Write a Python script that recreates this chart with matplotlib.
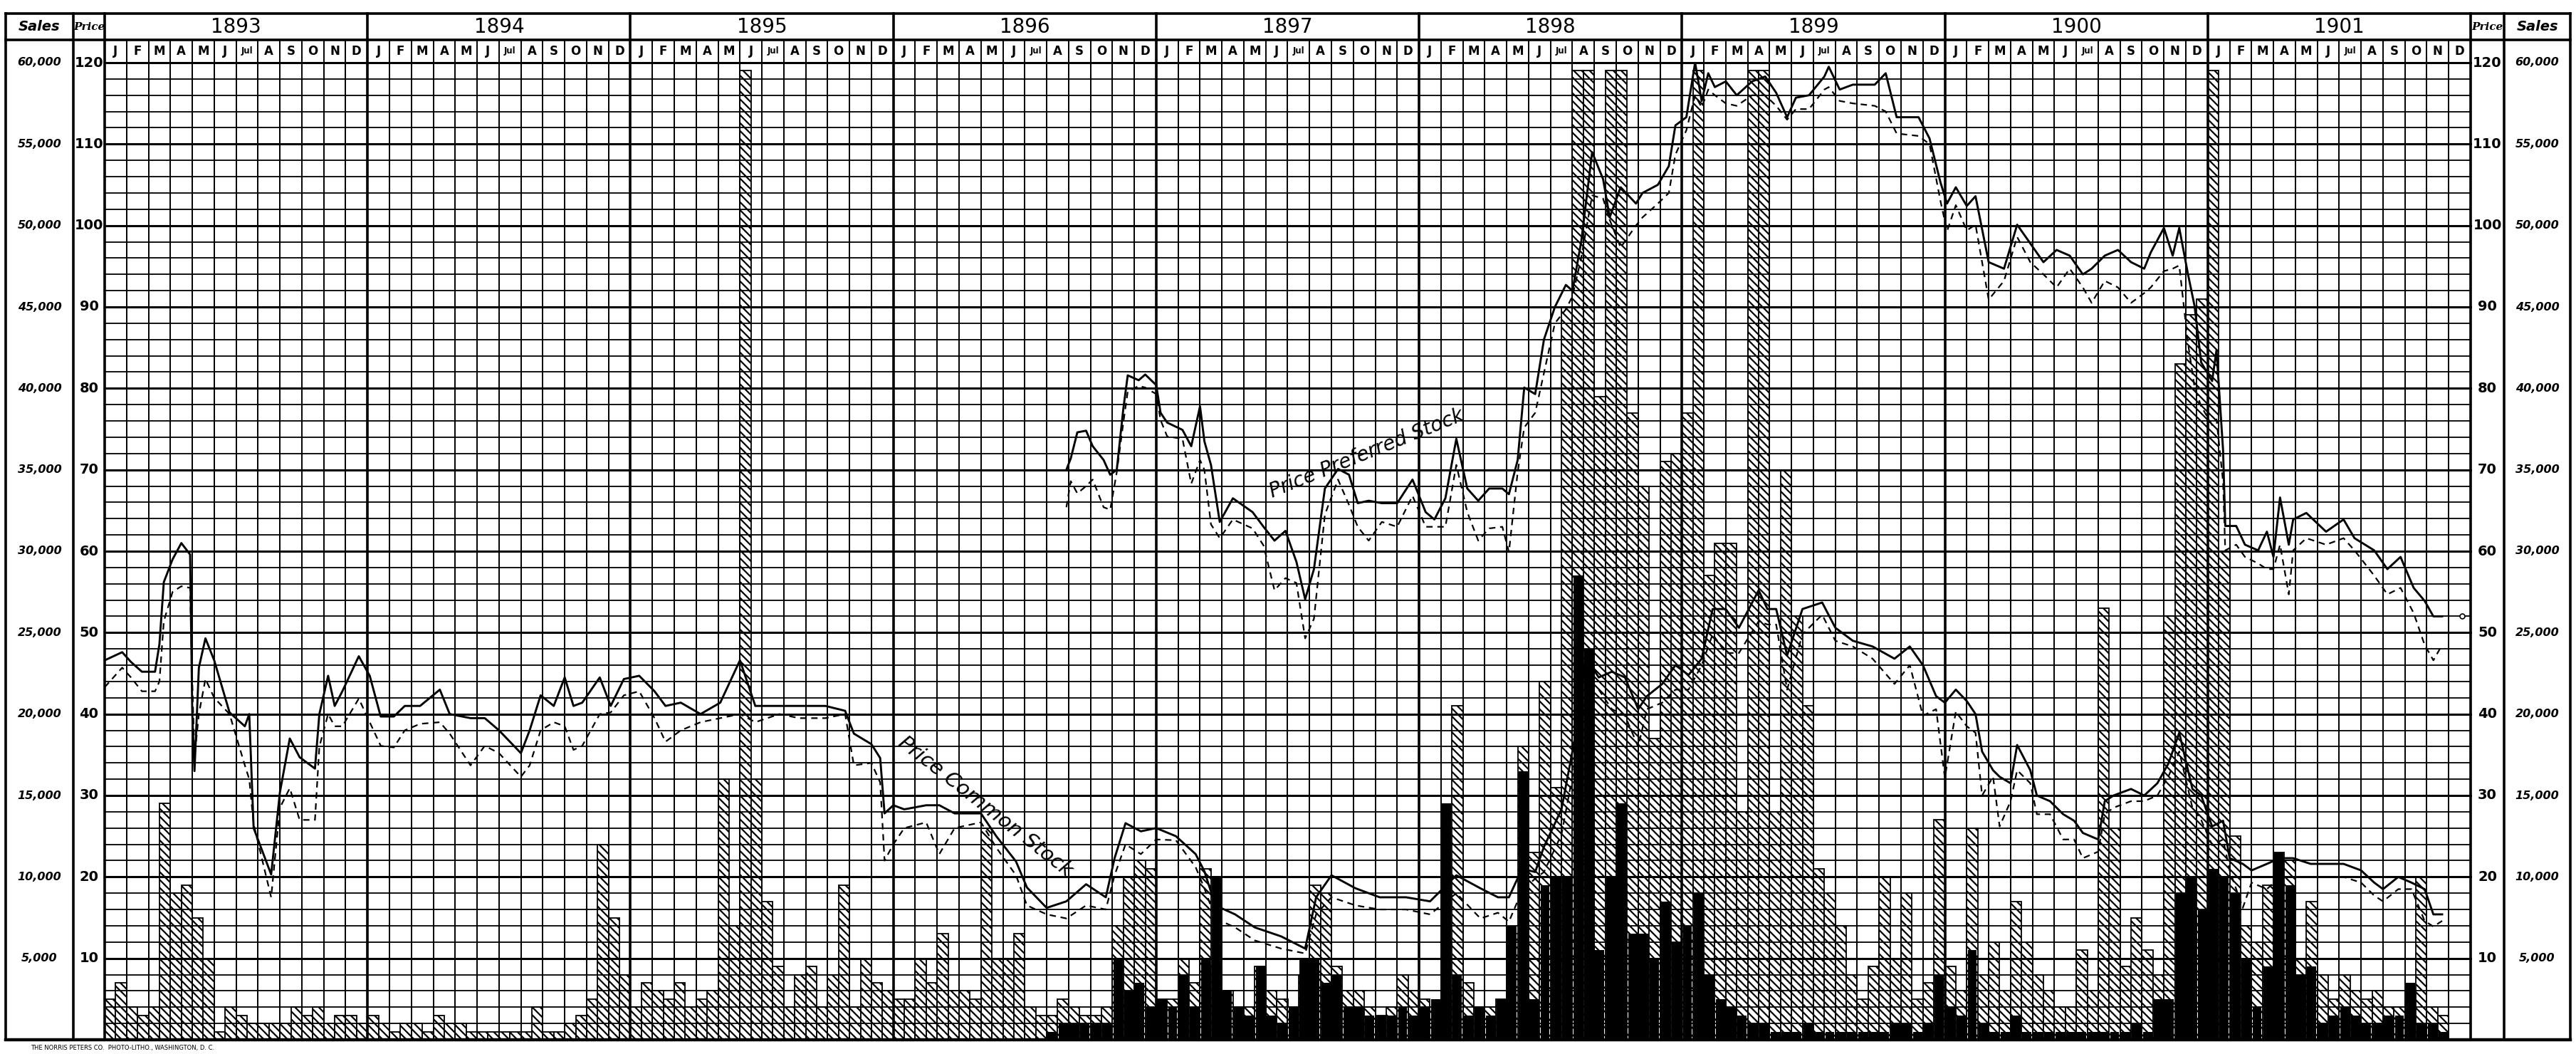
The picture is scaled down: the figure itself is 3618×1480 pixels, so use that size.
import numpy as np
import matplotlib
matplotlib.use("Agg")
import matplotlib.pyplot as plt

YEARS = list(range(1893, 1902))
MONTH_LABELS = ["J", "F", "M", "A", "M", "J", "Jul", "A", "S", "O", "N", "D"]
PRICE_TICKS = [10, 20, 30, 40, 50, 60, 70, 80, 90, 100, 110, 120]
SALES_LABELS = ["5,000", "10,000", "15,000", "20,000", "25,000", "30,000",
                "35,000", "40,000", "45,000", "50,000", "55,000", "60,000"]

# price readings; time in months since 1 Jan 1893
COMMON_T = [0.0, 0.8, 1.2, 1.7, 2.3, 2.5, 2.7, 3.1, 3.5, 3.9,
            4.0, 4.1, 4.3, 4.6, 5.0, 5.7, 6.4, 6.6, 6.8, 7.6,
            8.0, 8.45, 8.9, 9.6, 9.8, 10.2, 10.5, 10.85, 11.6, 12.1,
            12.6, 13.2, 13.7, 14.4, 15.3, 15.75, 16.7, 17.35, 18.0, 19.0,
            19.4, 19.9, 20.5, 21.0, 21.4, 21.8, 22.6, 23.1, 23.7, 24.4,
            25.1, 25.6, 26.3, 27.2, 28.1, 29.0, 29.7, 30.8, 31.7, 32.9,
            33.8, 34.2, 35.0, 35.4, 35.6, 36.0, 36.5, 37.5, 38.1, 38.8,
            40.0, 40.7, 41.6, 42.1, 43.0, 43.9, 44.8, 45.7, 46.1, 46.6,
            47.3, 48.0, 48.9, 49.8, 50.2, 50.7, 51.6, 52.5, 53.7, 54.8,
            55.3, 56.0, 57.1, 58.2, 59.4, 60.5, 61.7, 62.8, 63.6, 64.1,
            64.7, 65.3, 65.7, 66.5, 67.2, 67.6, 68.2, 68.8, 69.4, 70.0,
            70.4, 71.1, 71.7, 72.3, 72.9, 73.4, 74.0, 74.6, 75.5, 75.9,
            76.3, 76.8, 77.5, 78.4, 79.0, 79.8, 80.7, 81.7, 82.4, 83.0,
            83.6, 84.0, 84.5, 85.0, 85.4, 85.7, 86.2, 86.5, 87.0, 87.3,
            87.9, 88.2, 88.8, 89.4, 89.9, 90.3, 91.0, 91.3, 91.7, 92.5,
            93.1, 93.7, 94.2, 94.7, 95.3, 95.7, 96.2, 96.7, 97.0, 97.6,
            98.0, 98.7, 99.3, 99.9, 100.7, 101.4, 102.2, 103.0, 103.6, 104.0,
            104.7, 105.3, 105.9, 106.3, 106.7]
COMMON_HIGH = [46.6, 47.6, 46.4, 45.2, 45.2, 48.6, 56.2, 59.0, 61.0, 59.6,
               40.0, 33.0, 45.7, 49.3, 46.6, 40.2, 38.5, 40.0, 26.0, 20.3,
               30.4, 37.0, 34.7, 33.3, 40.0, 44.7, 41.0, 42.8, 47.1, 44.7,
               39.7, 39.7, 41.0, 41.0, 43.0, 40.0, 39.5, 39.5, 38.0, 35.2,
               38.0, 42.3, 41.0, 44.5, 41.0, 41.4, 44.5, 41.0, 44.3, 44.7,
               42.8, 41.0, 41.4, 40.0, 41.4, 46.6, 41.0, 41.0, 41.0, 41.0,
               40.4, 37.6, 36.3, 34.6, 27.8, 28.8, 28.3, 28.8, 28.8, 27.8,
               27.8, 25.0, 21.9, 18.7, 16.2, 17.0, 19.1, 17.5, 22.3, 26.6,
               25.6, 26.0, 25.0, 22.8, 20.7, 16.5, 15.4, 13.8, 12.7, 11.2,
               17.5, 20.2, 18.6, 17.5, 17.5, 17.0, 20.2, 18.6, 17.5, 17.5,
               21.0, 20.6, 23.7, 28.3, 38.3, 47.0, 44.5, 45.2, 44.5, 40.6,
               42.2, 43.7, 46.0, 44.8, 46.8, 52.9, 52.9, 50.6, 55.2, 52.9,
               52.9, 47.2, 52.9, 53.7, 50.6, 49.0, 48.3, 46.8, 48.3, 46.0,
               42.2, 41.4, 43.0, 41.6, 40.0, 35.4, 33.1, 32.3, 31.5, 36.2,
               33.1, 30.0, 29.3, 27.7, 26.9, 25.4, 24.6, 29.3, 30.0, 30.8,
               30.0, 31.5, 33.9, 37.7, 30.8, 30.0, 26.2, 26.9, 22.3, 21.6,
               20.8, 21.6, 22.3, 22.3, 21.6, 21.6, 21.6, 20.8, 19.3, 18.5,
               20.0, 19.3, 18.5, 15.4, 15.4]
COMMON_LOW = [43.3, 45.7, 44.5, 42.8, 42.8, 44.0, 51.4, 55.0, 55.7, 55.5,
              44.0, 34.7, 40.0, 44.3, 42.0, 40.0, 33.7, 32.0, 26.5, 17.5,
              28.5, 30.9, 27.0, 27.0, 36.0, 40.0, 38.5, 38.5, 41.9, 39.0,
              36.1, 35.9, 38.0, 38.8, 39.0, 37.6, 33.7, 36.1, 35.2, 32.3,
              33.7, 38.0, 39.0, 38.5, 35.6, 36.1, 40.0, 40.2, 42.3, 42.8,
              39.5, 36.6, 38.0, 39.0, 39.5, 40.0, 39.0, 40.0, 39.5, 39.5,
              40.0, 33.7, 34.0, 31.6, 22.0, 24.0, 26.0, 26.7, 22.8, 26.0,
              26.7, 23.6, 20.2, 16.5, 15.4, 14.9, 16.5, 16.0, 20.2, 24.0,
              22.8, 24.6, 24.5, 21.2, 18.6, 14.9, 13.8, 12.2, 11.2, 10.6,
              15.4, 17.5, 16.5, 16.0, 16.0, 15.4, 18.0, 14.9, 15.6, 14.5,
              18.3, 19.8, 20.6, 25.2, 35.2, 42.0, 43.0, 40.6, 39.8, 36.0,
              40.6, 41.4, 43.0, 43.0, 46.0, 49.8, 47.5, 47.5, 51.4, 51.0,
              51.0, 43.0, 49.8, 52.2, 49.0, 48.3, 46.8, 43.7, 46.0, 39.8,
              40.6, 32.2, 40.3, 38.5, 37.7, 30.0, 32.3, 26.2, 29.3, 33.1,
              31.5, 27.7, 27.7, 24.6, 24.6, 22.3, 23.1, 27.7, 28.5, 29.3,
              29.3, 30.0, 32.3, 35.4, 28.5, 27.0, 23.9, 24.6, 20.8, 16.2,
              19.3, 18.5, 20.0, 20.0, 20.0, 20.0, 20.0, 19.3, 17.7, 17.0,
              18.5, 18.5, 14.6, 13.9, 14.6]

PREF_T = [43.9, 44.1, 44.4, 44.8, 45.1, 45.6, 45.9, 46.2, 46.5, 46.7,
          47.2, 47.5, 48.0, 48.2, 48.5, 49.2, 49.6, 50.0, 50.2, 50.5,
          50.9, 51.5, 52.4, 52.9, 53.4, 53.9, 54.4, 54.8, 55.2, 55.7,
          56.3, 56.8, 57.2, 57.7, 58.3, 59.0, 59.7, 60.3, 60.7, 61.2,
          61.7, 62.2, 62.7, 63.2, 63.8, 64.1, 64.5, 64.8, 65.3, 65.7,
          66.2, 66.7, 67.0, 67.4, 67.9, 68.4, 68.7, 69.2, 69.9, 70.2,
          70.9, 71.4, 71.7, 72.2, 72.6, 72.9, 73.2, 73.5, 74.0, 74.5,
          75.2, 75.8, 76.3, 76.8, 77.2, 77.8, 78.5, 78.7, 79.2, 79.8,
          80.8, 81.3, 81.8, 82.8, 83.3, 83.8, 84.1, 84.5, 85.0, 85.4,
          86.0, 86.7, 87.3, 87.9, 88.5, 89.1, 89.7, 90.3, 90.7, 91.3,
          91.9, 92.5, 93.1, 93.4, 94.0, 94.4, 94.7, 95.1, 95.4, 95.7,
          96.2, 96.4, 96.7, 96.8, 97.3, 97.7, 98.3, 98.7, 99.0, 99.3,
          99.7, 99.9, 100.5, 101.4, 102.2, 102.7, 103.6, 104.2, 104.8, 105.4,
          105.9, 106.3, 106.7]
PREF_HIGH = [70.0, 71.4, 74.6, 74.8, 72.9, 71.2, 69.4, 70.0, 77.5, 81.6,
             81.0, 81.7, 80.4, 77.0, 75.8, 74.9, 72.9, 77.8, 73.5, 70.6,
             63.6, 66.5, 64.8, 63.0, 61.3, 62.5, 58.7, 54.1, 57.8, 67.7,
             70.1, 69.4, 65.9, 66.2, 65.9, 65.9, 68.8, 64.8, 63.9, 66.5,
             73.8, 67.7, 66.2, 67.7, 67.7, 67.0, 71.2, 80.1, 79.3, 86.0,
             90.0, 92.7, 92.0, 98.0, 109.0, 105.7, 101.0, 104.7, 102.7, 104.0,
             105.0, 107.3, 112.3, 113.3, 120.0, 115.3, 118.7, 117.0, 117.7, 116.0,
             117.7, 118.3, 116.3, 113.3, 115.7, 116.0, 118.3, 119.5, 116.7, 117.3,
             117.3, 118.7, 113.3, 113.3, 110.7, 105.3, 102.7, 104.7, 102.4, 103.6,
             95.5, 94.7, 100.1, 97.8, 95.5, 97.0, 96.3, 94.0, 94.7, 96.3,
             97.0, 95.5, 94.7, 96.7, 99.7, 96.3, 99.7, 94.0, 90.1, 83.2,
             80.9, 84.7, 72.4, 63.1, 63.1, 60.8, 60.1, 62.4, 59.3, 66.6,
             60.8, 63.9, 64.7, 62.4, 63.9, 61.6, 60.1, 57.8, 59.3, 55.5,
             53.9, 52.0, 52.0]
PREF_LOW = [65.4, 68.6, 67.1, 68.0, 68.8, 65.4, 65.1, 69.7, 75.8, 79.6,
            80.3, 80.1, 79.3, 76.1, 74.1, 73.8, 68.3, 71.2, 70.0, 63.3,
            61.6, 63.9, 62.8, 60.7, 55.2, 56.7, 56.1, 49.3, 51.7, 64.5,
            68.8, 65.7, 63.0, 61.3, 63.6, 63.0, 66.8, 63.0, 63.0, 63.0,
            70.6, 64.8, 61.3, 62.8, 63.0, 59.9, 69.7, 75.2, 77.0, 81.9,
            88.0, 89.7, 91.3, 96.0, 103.7, 103.3, 100.7, 97.3, 100.0, 101.0,
            102.7, 104.0, 108.7, 111.7, 116.0, 114.5, 116.7, 116.0, 115.0, 114.7,
            116.0, 116.0, 114.7, 113.0, 114.3, 114.3, 116.7, 117.0, 115.3, 115.0,
            114.7, 114.0, 111.3, 111.0, 110.0, 103.0, 99.3, 102.5, 99.4, 100.1,
            90.9, 93.2, 98.6, 95.5, 94.0, 92.4, 94.7, 92.4, 90.5, 93.2,
            92.4, 90.5, 91.7, 92.4, 94.4, 94.7, 95.1, 85.5, 80.1, 77.8,
            75.5, 76.2, 68.5, 60.1, 60.8, 59.3, 58.5, 57.8, 57.8, 60.8,
            54.7, 60.1, 61.6, 60.8, 61.6, 60.1, 57.0, 54.7, 55.5, 52.4,
            48.5, 46.6, 48.5]

# half-monthly sales, thousands of shares, Jan 1893 .. Dec 1901
COMMON_SALES = [
    2.5, 3.5, 2, 1.5, 2, 14.5, 9, 9.5, 7.5, 5, 0.5, 2, 1.5, 1, 1, 1, 1, 2, 1.5, 2, 1, 1.5, 1.5, 1,
    1.5, 1, 0.5, 1, 1, 0.5, 1.5, 1, 1, 0.5, 0.5, 0.5, 0.5, 0.5, 0.5, 2, 0.5, 0.5, 1, 1.5, 2.5, 12, 7.5, 4,
    2, 3.5, 3, 2.5, 3.5, 2, 2.5, 3, 16, 7, 59.5, 16, 8.5, 4.5, 2, 4, 4.5, 2, 4, 9.5, 2, 5, 3.5, 3,
    2.5, 2.5, 5, 3.5, 6.5, 3, 3, 2.5, 13, 5, 5, 6.5, 2, 1.5, 1.5, 2.5, 2, 1.5, 1.5, 2, 7, 10, 11, 10.5,
    2.5, 2.5, 5, 3.5, 10.5, 4.5, 3, 2, 2, 4.5, 3, 2.5, 2, 4, 9.5, 9, 4.5, 3, 3, 2, 1.5, 2, 4, 3,
    2.5, 2, 3, 20.5, 3.5, 2, 2, 2.5, 6.5, 18, 11.5, 22, 15.5, 45, 59.5, 59.5, 39.5, 59.5, 59.5, 38.5, 34, 18.5, 35.5, 36,
    38.5, 59.5, 28.5, 30.5, 30.5, 14, 59.5, 59.5, 14, 35, 26, 20.5, 10.5, 9, 7, 4, 2.5, 4.5, 10, 5, 9, 2.5, 3.5, 13.5,
    4.5, 3, 13, 4, 6, 3, 8.5, 6, 4, 3, 2, 2, 5.5, 3, 26.5, 13, 4.5, 7.5, 5.5, 4, 26, 41.5, 44.5, 45.5,
    59.5, 30, 12.5, 7, 6, 9.5, 11.5, 11, 5, 8.5, 4, 2.5, 4, 3, 2.5, 3, 2, 2, 3, 10, 2, 1.5, 0, 0,
]
PREF_SALES = [0] * 72 + [
    0, 0, 0, 0, 0, 0, 0, 0, 0, 0, 0, 0, 0, 0, 0.5, 1, 1, 1, 1, 1, 5, 3, 3.5, 2,
    2.5, 2, 4, 2, 5, 10, 3, 2, 1.5, 4.5, 1.5, 1, 2, 5, 5, 3.5, 4, 2, 2, 1.5, 1.5, 1.5, 2, 1.5,
    2, 2.5, 14.5, 4, 1.5, 2, 1.5, 2.5, 7, 16.5, 2.5, 9.5, 10, 10, 28.5, 24, 5.5, 10, 14.5, 6.5, 6.5, 5, 8.5, 6,
    7, 9, 4, 2.5, 2, 1.5, 1, 1, 0.5, 0.5, 0.5, 1, 0.5, 0.5, 0.5, 0.5, 0.5, 0.5, 0.5, 1, 1, 0.5, 1, 4,
    2, 1.5, 5.5, 1, 0.5, 0.5, 1.5, 0.5, 0.5, 0.5, 0.5, 0.5, 0.5, 0.5, 0.5, 0.5, 0.5, 1, 0.5, 2.5, 2.5, 9, 10, 8,
    10.5, 10, 9, 5, 2, 4.5, 11.5, 9.5, 4, 4.5, 1, 1.5, 2, 1.5, 1, 1, 1.5, 1.5, 3.5, 1, 1, 0.5, 0, 0,
]

SALES_PER_POINT = 0.5   # thousand shares per price point (60,000 <-> 120)
N_MONTHS = 12 * len(YEARS)

plt.rcParams["hatch.linewidth"] = 1.6

fig = plt.figure(figsize=(36.18, 14.80), dpi=100)
fig.patch.set_facecolor("white")
ax = fig.add_axes([147 / 3618, 20 / 1480, 3323 / 3618, 1372 / 1480])
ax.set_xlim(0, N_MONTHS)
ax.set_ylim(0, 120)
ax.axis("off")

# sales bars (behind the grid): hatched = common, solid = preferred
t_half = np.arange(len(COMMON_SALES)) * 0.5 + 0.25
common_h = np.minimum(np.array(COMMON_SALES) / SALES_PER_POINT, 119.6)
pref_h = np.array(PREF_SALES) / SALES_PER_POINT
ax.bar(t_half, common_h, width=0.5, facecolor="white", edgecolor="black",
       hatch="\\\\\\", linewidth=1.3, zorder=1)
ax.bar(t_half, pref_h, width=0.42, color="black", linewidth=0, zorder=1.5)

# ruled grid
for y in range(0, 121, 2):
    ax.plot([0, N_MONTHS], [y, y], color="black",
            lw=2.2 if y % 10 == 0 else 1.3, zorder=2, clip_on=False)
for m in range(N_MONTHS + 1):
    ax.plot([m, m], [0, 122.8], color="black",
            lw=2.6 if m % 12 == 0 else 1.4, zorder=2, clip_on=False)

# price lines: high solid, low dashed
ax.plot(COMMON_T, COMMON_HIGH, color="black", lw=2.1, zorder=3)
ax.plot(COMMON_T, COMMON_LOW, color="black", lw=1.6, ls=(0, (4, 3)), zorder=3)
ax.plot(PREF_T, PREF_HIGH, color="black", lw=2.1, zorder=3)
ax.plot(PREF_T, PREF_LOW, color="black", lw=1.6, ls=(0, (4, 3)), zorder=3)
ax.plot([PREF_T[-1] + 0.9], [PREF_HIGH[-1]], "o", ms=5, mfc="white",
        mec="black", mew=1.2, zorder=4)

ax.text(40.2, 28.6, "Price Common Stock", rotation=-38, fontsize=21,
        style="italic", ha="center", va="center", zorder=4)
ax.text(57.6, 72.0, "Price Preferred Stock", rotation=22, fontsize=20,
        style="italic", ha="center", va="center", zorder=4)

# header rows and side columns
L_SALES, L_PRICE = -4.52, -1.43
R_PRICE, R_SALES = N_MONTHS + 1.53, N_MONTHS + 4.55
MONTH_TOP, YEAR_TOP = 122.8, 126.0
frame = dict(color="black", lw=2.6, clip_on=False, zorder=2)
ax.plot([L_SALES, R_SALES], [YEAR_TOP, YEAR_TOP], **frame)
ax.plot([L_SALES, R_SALES], [MONTH_TOP, MONTH_TOP], **frame)
ax.plot([L_SALES, R_SALES], [0, 0], color="black", lw=3.2, clip_on=False, zorder=2)
for x in (L_SALES, L_PRICE, R_PRICE, R_SALES):
    ax.plot([x, x], [0, YEAR_TOP], **frame)
for i in range(len(YEARS) + 1):
    ax.plot([12 * i, 12 * i], [MONTH_TOP, YEAR_TOP], **frame)

for i, yr in enumerate(YEARS):
    ax.text(12 * i + 6, 124.4, str(yr), fontsize=20, ha="center", va="center")
    for j, lab in enumerate(MONTH_LABELS):
        ax.text(12 * i + j + 0.5, 121.4, lab, fontsize=12 if lab != "Jul" else 8.5,
                fontweight="bold", ha="center", va="center")

for xs, xp in ((L_SALES, L_PRICE), (R_SALES, R_PRICE)):
    cs = (xs + xp) / 2
    cp = L_PRICE / 2 if xp == L_PRICE else (N_MONTHS + R_PRICE) / 2
    ax.text(cs, 124.4, "Sales", fontsize=14, fontweight="bold", style="italic",
            ha="center", va="center")
    ax.text(cp, 124.4, "Price", fontsize=11, style="italic", family="DejaVu Serif",
            fontweight="bold", ha="center", va="center")
    for p, s in zip(PRICE_TICKS, SALES_LABELS):
        ax.text(cs, p, s, fontsize=11.5, fontweight="bold", style="italic",
                ha="center", va="center")
        ax.text(cp, p, str(p), fontsize=14, fontweight="bold",
                ha="center", va="center")

fig.text(0.012, 0.003, "THE NORRIS PETERS CO.  PHOTO-LITHO., WASHINGTON, D. C.",
         fontsize=6, ha="left", va="bottom")

fig.savefig("out.png", dpi=100, facecolor="white")
